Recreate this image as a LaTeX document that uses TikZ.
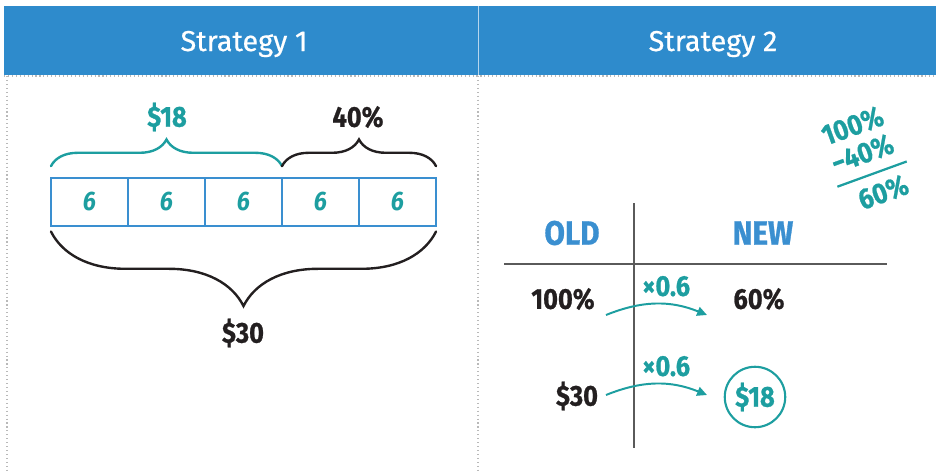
\documentclass[tikz,border=0pt]{standalone}
\usepackage{fontspec}
\setmainfont{Fira Sans}
\newfontfamily\headfont[FakeBold=0.5]{Fira Sans}
\newfontfamily\hand[FakeStretch=0.88, BoldFeatures={FakeBold=0.8}]{Fira Sans}
\usetikzlibrary{arrows.meta,decorations.pathreplacing}

\definecolor{headblue}{RGB}{46,139,204}
\definecolor{cellblue}{RGB}{58,143,208}
\definecolor{tealink}{RGB}{29,158,160}
\definecolor{chartgray}{RGB}{90,90,90}
\definecolor{darkink}{RGB}{35,31,32}

\tikzset{
	head/.style={text=white, font=\headfont\fontsize{20.5}{22}\selectfont},
	hand/.style={inner sep=0pt, font=\hand\bfseries\fontsize{20.5}{22}\selectfont},
	colhead/.style={hand, text=cellblue, font=\hand\bfseries\fontsize{24}{26}\selectfont},
	cell/.style={draw=cellblue, line width=1.4pt, outer sep=0pt, inner sep=0pt,
		minimum width=54.8pt, minimum height=34pt, text=tealink,
		font=\hand\bfseries\itshape\fontsize{19}{21}\selectfont},
	curly/.style={decorate, line width=1.7pt, line cap=round},
	times/.style={-{Triangle[length=7pt,width=6.5pt]}, tealink, line width=1.4pt}
}

\begin{document}
\begin{tikzpicture}[x=0.025cm, y=-0.025cm]
	\useasboundingbox (0,0) rectangle (936,470);

	% header band and panel rules
	\fill[headblue] (4,6) rectangle (936,75);
	\draw[white!65!headblue, line width=0.6pt] (478,6) -- (478,75);
	\draw[gray!55, dotted, line width=0.8pt] (4,76) -- (936,76);
	\draw[gray!55, dotted, line width=0.8pt] (7,76) -- (7,470);
	\draw[gray!55, dotted, line width=0.8pt] (478,76) -- (478,470);
	\node[head] (s1) at (244,44) {Strategy 1};
	\node[head] (s2) at (713,44) {Strategy 2};

	% tape of five equal parts
	\foreach \k in {0,...,4}
		\node[cell] (c\k) at ({89.5+77*\k},202) {6};

	\draw[curly, tealink, decoration={brace, amplitude=19pt}]
		([yshift=8.5pt]c0.north west) -- ([yshift=8.5pt]c2.north east);
	\draw[curly, darkink, decoration={brace, amplitude=19pt}]
		([yshift=8.5pt]c3.north west) -- ([yshift=8.5pt]c4.north east);
	\draw[curly, darkink, decoration={brace, amplitude=53pt}]
		([yshift=-4pt]c4.south east) -- ([yshift=-4pt]c0.south west);

	\node[hand, text=tealink] (part) at (167,117) {\$18};
	\node[hand, text=darkink] (rest) at (358,117) {40\%};
	\node[hand, text=darkink] (whole) at (243,333) {\$30};

	% side calculation
	\node[hand, text=tealink, rotate=20] (sub) at (868,163)
		{\setlength{\arrayrulewidth}{1.6pt}\renewcommand{\arraystretch}{0.95}%
		\begin{tabular}{@{\hspace{2pt}}r@{\hspace{5pt}}}
			100\%\\
			−40\%\\[2pt]\hline
			\rule{0pt}{21pt}60\%
		\end{tabular}};

	% old/new table
	\draw[chartgray, line width=2pt] (634,203) -- (634,448);
	\draw[chartgray, line width=2pt] (504,264) -- (887,264);
	\node[colhead] (old) at (572,233) {OLD};
	\node[colhead] (new) at (763,233) {NEW};

	\node[hand, text=darkink] (old1) at (563,299) {100\%};
	\node[hand, text=darkink] (new1) at (759,299) {60\%};
	\node[hand, text=darkink] (old2) at (577,396) {\$30};
	\node[hand, text=tealink, draw=tealink, line width=1.5pt, circle,
		minimum size=43pt] (new2) at (755,397) {\$18};

	\coordinate (a1) at (606,315);
	\coordinate (b1) at (707,315);
	\coordinate (a2) at (606,395);
	\coordinate (b2) at (707,395);
	\draw[times] (a1) to[bend left=22]
		node[pos=0.6, above=5pt, hand] {×0.6} (b1);
	\draw[times] (a2) to[bend left=22]
		node[pos=0.6, above=5pt, hand] {×0.6} (b2);
\end{tikzpicture}
\end{document}
